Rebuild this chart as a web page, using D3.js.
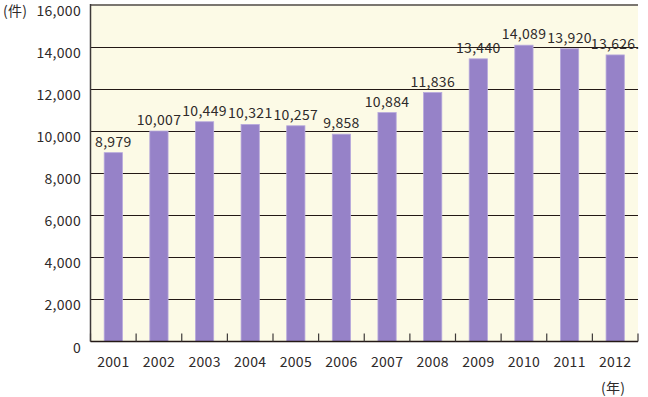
<!DOCTYPE html>
<html><head><meta charset="utf-8">
<script src="https://cdn.jsdelivr.net/npm/d3@7"></script>
<style>body{margin:0;background:#fff}svg text{font-family:"Noto Sans CJK JP","Noto Sans",sans-serif;fill:#2e2a2a;font-weight:400;letter-spacing:0.3px}</style>
</head><body><svg id="c" width="648" height="397"></svg>
<script>
const years=["2001","2002","2003","2004","2005","2006","2007","2008","2009","2010","2011","2012"];
const counts=[8979,10007,10449,10321,10257,9858,10884,11836,13440,14089,13920,13626];
const valueLabels=["8,979","10,007","10,449","10,321","10,257","9,858","10,884","11,836","13,440","14,089","13,920","13,626."];
const yTicks=[0,2000,4000,6000,8000,10000,12000,14000,16000];

const svg=d3.select("#c");
const L=90.5,R=638,T=5,B=341.5;
const x=d3.scaleBand().domain(years).range([L,R]).paddingInner(0.6).paddingOuter(0.3);
const y=d3.scaleLinear().domain([0,16000]).range([B,T]);

svg.append("rect").attr("x",L).attr("y",T).attr("width",R-L).attr("height",B-T).attr("fill","#fcfae6");

svg.selectAll(".grid").data(yTicks.filter(d=>d>0&&d<16000)).enter().append("line")
 .attr("x1",L).attr("x2",R).attr("y1",d=>Math.round(y(d))+0.5).attr("y2",d=>Math.round(y(d))+0.5)
 .attr("stroke","#231815").attr("stroke-width",1);

svg.selectAll(".bar").data(counts).enter().append("rect")
 .attr("x",(d,i)=>x(years[i])).attr("y",d=>y(d)).attr("width",x.bandwidth()).attr("height",d=>B-y(d))
 .attr("fill","#9682c8").attr("stroke","#b7a9dc").attr("stroke-width",0.8);

svg.append("line").attr("x1",L).attr("x2",R).attr("y1",T).attr("y2",T).attr("stroke","#7a7670").attr("stroke-width",2);
svg.append("line").attr("x1",L).attr("x2",L).attr("y1",T-1).attr("y2",B).attr("stroke","#3e3a39").attr("stroke-width",1.5);
svg.append("line").attr("x1",L).attr("x2",R).attr("y1",B).attr("y2",B).attr("stroke","#231815").attr("stroke-width",1.5);
const bounds=d3.range(years.length+1).map(i=>L+i*(R-L)/years.length);
svg.selectAll(".tk").data(bounds).enter().append("line")
 .attr("x1",d=>d).attr("x2",d=>d).attr("y1",B).attr("y2",B-8).attr("stroke","#3e3a39").attr("stroke-width",1.2);

svg.selectAll(".yl").data(yTicks).enter().append("text")
 .attr("x",81).attr("y",d=>y(d)+11).attr("text-anchor","end").attr("font-size",14).text(d=>d3.format(",")(d));

svg.selectAll(".xl").data(years).enter().append("text")
 .attr("x",d=>x(d)+x.bandwidth()/2).attr("y",367).attr("text-anchor","middle").attr("font-size",14).text(d=>d);

svg.selectAll(".vl").data(counts).enter().append("text")
 .attr("x",(d,i)=>x(years[i])+x.bandwidth()/2).attr("y",d=>y(d)-6).attr("text-anchor","middle").attr("font-size",14)
 .text((d,i)=>valueLabels[i]);

svg.append("text").attr("x",3).attr("y",16).attr("font-size",14).attr("letter-spacing",2).text("(件)");
svg.append("text").attr("x",601).attr("y",393).attr("font-size",14).attr("letter-spacing",2).text("(年)");
</script></body></html>
